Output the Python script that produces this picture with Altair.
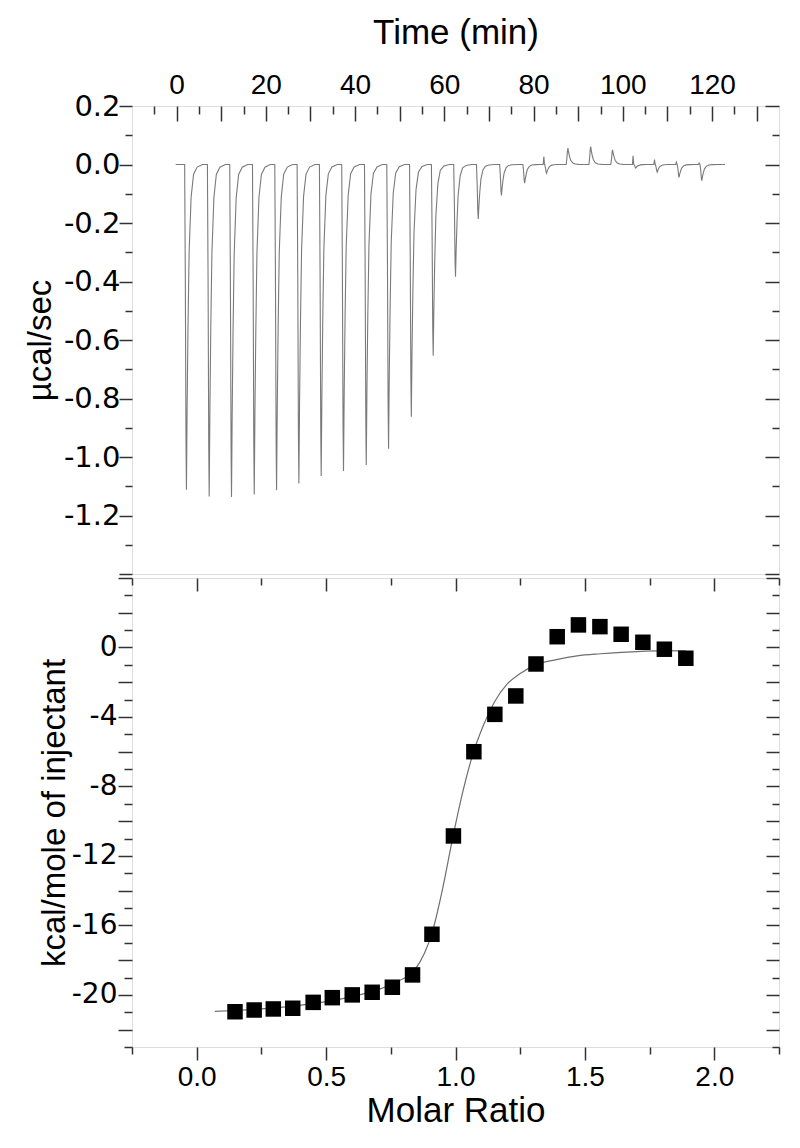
import altair as alt
import pandas as pd

# ---------------- raw thermogram (top panel) ----------------
inj_time = [2.2, 7.3, 12.3, 17.4, 22.4, 27.4, 32.4, 37.4, 42.5, 47.5, 52.6, 57.5,
            62.5, 67.6, 72.8, 78.0, 82.9, 87.7, 92.8, 97.7, 102.9, 107.7, 112.6, 117.7]
inj_peak = [-1.112, -1.135, -1.137, -1.128, -1.114, -1.091, -1.065, -1.048, -1.027, -0.972,
            -0.862, -0.654, -0.384, -0.186, -0.106, -0.064, -0.030, 0.056, 0.061, 0.050,
            -0.012, -0.026, -0.044, -0.055]
inj_pre = [0, 0, 0, 0, 0, 0, 0, 0, 0, 0, 0, 0, 0, 0, 0, 0,
           0.027, 0, 0, 0, 0.030, 0.017, 0.008, 0.005]
peak_dt = [-0.4, -0.25, -0.1, 0.0, 0.15, 0.35, 0.6, 1.05, 1.6, 2.4, 3.6]
peak_frac = [0.0, 0.35, 0.85, 1.0, 0.75, 0.5, 0.27, 0.1, 0.03, 0.008, 0.0]
pre_dt = [-0.75, -0.6, -0.45]
pre_frac = [0.0, 1.0, 0.0]
trace_start = -0.2
trace_end = 122.9

# ---------------- integrated heats (bottom panel) ----------------
molar_ratio = [0.148, 0.222, 0.296, 0.371, 0.450, 0.524, 0.601, 0.678, 0.756, 0.834, 0.909, 0.992,
               1.071, 1.152, 1.233, 1.311, 1.393, 1.475, 1.558, 1.640, 1.724, 1.807, 1.890]
heat_kcal = [-20.97, -20.87, -20.81, -20.77, -20.43, -20.16, -20.0, -19.85, -19.56, -18.85, -16.51, -10.85,
             -6.0, -3.85, -2.79, -0.95, 0.62, 1.30, 1.20, 0.76, 0.30, -0.10, -0.62]
fit_ratio = [0.07, 0.15, 0.30, 0.45, 0.60, 0.70, 0.78, 0.84, 0.88, 0.91, 0.95, 0.99, 1.03, 1.07,
             1.11, 1.15, 1.20, 1.25, 1.31, 1.39, 1.47, 1.56, 1.64, 1.72, 1.81, 1.89]
fit_kcal = [-20.95, -20.9, -20.75, -20.5, -20.1, -19.7, -19.2, -18.6, -17.6, -16.4, -13.9, -10.9, -8.2, -6.0,
            -4.4, -3.15, -2.1, -1.5, -1.0, -0.7, -0.48, -0.36, -0.28, -0.22, -0.18, -0.2]

# ---------------- axis labels / ticks ----------------
time_labels = [0, 20, 40, 60, 80, 100, 120]
ucal_labels = [0.2, 0.0, -0.2, -0.4, -0.6, -0.8, -1.0, -1.2]
kcal_labels = [0, -4, -8, -12, -16, -20]
ratio_labels = [0.0, 0.5, 1.0, 1.5, 2.0]
time_ticks = list(range(-5, 135, 5))
ucal_ticks = [round(-1.4 + 0.1 * i, 1) for i in range(17)]
kcal_ticks = list(range(-23, 5))
ratio_ticks = [round(-0.25 + 0.25 * i, 2) for i in range(11)]

rows = [{"t": trace_start, "p": 0.0}]
for t0, pk, pre in zip(inj_time, inj_peak, inj_pre):
    if pre:
        for dt, f in zip(pre_dt, pre_frac):
            rows.append({"t": t0 + dt, "p": pre * f})
    for dt, f in zip(peak_dt, peak_frac):
        rows.append({"t": t0 + dt, "p": pk * f})
rows.append({"t": trace_end, "p": 0.0})
for i, r in enumerate(rows):
    r["o"] = i
therm = pd.DataFrame(rows)
fit_df = pd.DataFrame({"r": fit_ratio, "k": fit_kcal})
pts_df = pd.DataFrame({"r": molar_ratio, "k": heat_kcal})

W, H1, H2 = 647, 468, 469
FRAME = "#333333"
SANS = "Liberation Sans"
WIDE = "DejaVu Sans"


def tick_axis(orient, values, test, major, minor, offset=None):
    kw = dict(orient=orient, values=values, labels=False, domain=False, grid=False, title=None,
              ticks=True, tickColor=FRAME, tickWidth=1.5,
              tickSize={"condition": {"test": test, "value": major}, "value": minor})
    if offset is not None:
        kw["offset"] = offset
    return alt.Axis(**kw)


def label_axis(orient, values, expr, font, size, pad, title, tfs, **extra):
    return alt.Axis(orient=orient, values=values, labelExpr=expr, ticks=False, domain=False, grid=False,
                    labelFont=font, labelFontSize=size, labelPadding=pad, labelColor="black",
                    labelOverlap=False, labelFlush=False,
                    title=title, titleFont=SANS, titleFontSize=tfs, titleFontWeight="normal",
                    titleColor="black", **extra)


neg1 = "datum.value < 0 ? '-' + format(-datum.value, '.1f') : format(datum.value, '.1f')"
negd = "datum.value < 0 ? '-' + format(-datum.value, 'd') : format(datum.value, 'd')"
t_major = "datum.value % 10 == 0"
u_major = "abs(round(datum.value * 10)) % 2 == 0"
k_major = "abs(datum.value) % 2 == 0"
r_major = "abs(round(datum.value * 4)) % 2 == 0"

xs_t = alt.Scale(domain=[-10, 135], nice=False, zero=False)
ys_t = alt.Scale(domain=[-1.4, 0.2], nice=False, zero=False)
xs_b = alt.Scale(domain=[-0.25, 2.25], nice=False, zero=False)
ys_b = alt.Scale(domain=[-23, 4], nice=False, zero=False)

top_line = alt.Chart(therm).mark_line(color="#7a7a7a", strokeWidth=1.1).encode(
    x=alt.X("t:Q", scale=xs_t,
            axis=label_axis("top", time_labels, "format(datum.value, 'd')", SANS, 28, 7,
                            "Time (min)", 35, titlePadding=21)),
    y=alt.Y("p:Q", scale=ys_t,
            axis=label_axis("left", ucal_labels, neg1, WIDE, 29, 12, "µcal/sec", 33, titlePadding=6)),
    order="o:Q",
)
top_out = alt.Chart(therm).mark_line(strokeOpacity=0).encode(
    x=alt.X("t:Q", scale=xs_t, axis=tick_axis("bottom", time_ticks, t_major, 15, 8, offset=-H1)),
    y=alt.Y("p:Q", scale=ys_t, axis=tick_axis("left", ucal_ticks, u_major, 13, 7)),
    order="o:Q",
)
top_in = alt.Chart(therm).mark_line(strokeOpacity=0).encode(
    x=alt.X("t:Q", scale=xs_t, axis=None),
    y=alt.Y("p:Q", scale=ys_t, axis=tick_axis("left", ucal_ticks, u_major, 14, 7, offset=-W)),
    order="o:Q",
)
top = alt.layer(top_line, top_out, top_in).resolve_axis(x="independent", y="independent").properties(
    width=W, height=H1)

fit_line = alt.Chart(fit_df).mark_line(color="#6e6e6e", strokeWidth=1.2, interpolate="monotone").encode(
    x=alt.X("r:Q", scale=xs_b,
            axis=label_axis("bottom", ratio_labels, "format(datum.value, '.1f')", SANS, 28, 16,
                            "Molar Ratio", 35, titlePadding=2)),
    y=alt.Y("k:Q", scale=ys_b,
            axis=label_axis("left", kcal_labels, negd, WIDE, 28, 15, "kcal/mole of injectant", 33,
                            titlePadding=0)),
)
squares = alt.Chart(pts_df).mark_point(shape="square", filled=True, color="black", size=240, opacity=1).encode(
    x=alt.X("r:Q", scale=xs_b, axis=tick_axis("bottom", ratio_ticks, r_major, 13, 7)),
    y=alt.Y("k:Q", scale=ys_b, axis=tick_axis("left", kcal_ticks, k_major, 14, 8)),
)
bot_in = alt.Chart(pts_df).mark_point(opacity=0).encode(
    x=alt.X("r:Q", scale=xs_b, axis=tick_axis("bottom", ratio_ticks, r_major, 13, 7, offset=-H2)),
    y=alt.Y("k:Q", scale=ys_b, axis=tick_axis("left", kcal_ticks, k_major, 13, 7, offset=-W)),
)
bottom = alt.layer(fit_line, squares, bot_in).resolve_axis(x="independent", y="independent").properties(
    width=W, height=H2)

chart = alt.vconcat(top, bottom, spacing=0).properties(
    padding={"left": 15, "top": 6, "right": 0, "bottom": 0}
).configure_view(stroke=FRAME, strokeWidth=1.6).configure(background="white")

chart.save("out.html", embed_options={"renderer": "svg", "actions": False})
